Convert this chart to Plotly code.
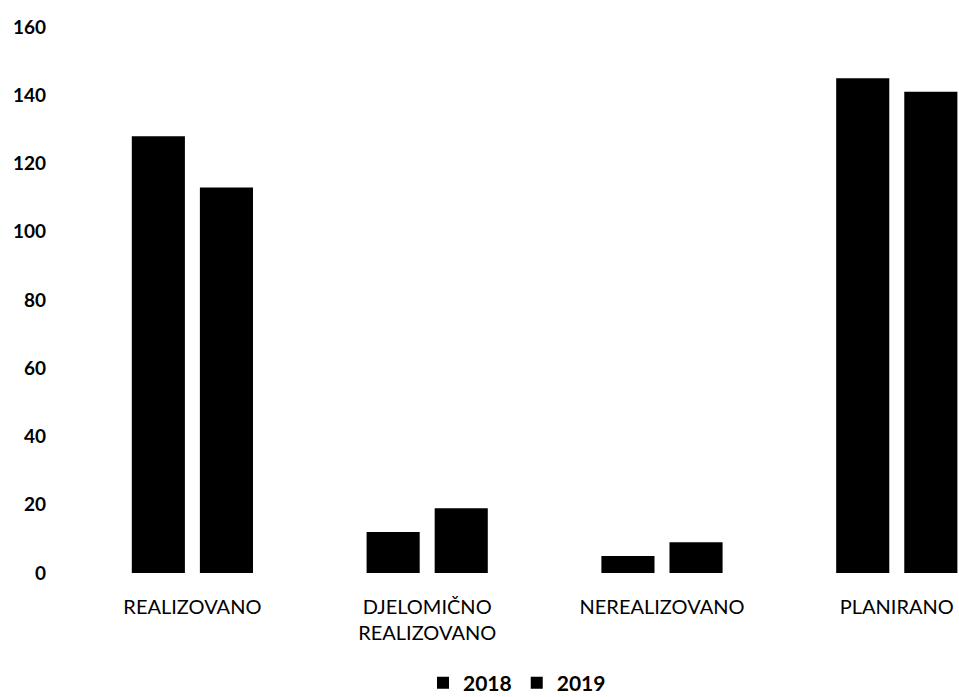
import plotly.graph_objects as go

categories = ["REALIZOVANO", "DJELOMIČNO<br>REALIZOVANO", "NEREALIZOVANO", "PLANIRANO"]
values_2018 = [128, 12, 5, 145]
values_2019 = [113, 19, 9, 141]
series_names = ["2018", "2019"]
y_ticks = [0, 20, 40, 60, 80, 100, 120, 140, 160]

fig = go.Figure()
for name, vals in zip(series_names, [values_2018, values_2019]):
    fig.add_trace(go.Bar(x=categories, y=vals, name=name, marker_color="#000000",
                         marker_line_width=0))

fig.update_layout(
    width=959, height=720,
    margin=dict(l=75, r=0, t=27, b=147),
    paper_bgcolor="white", plot_bgcolor="white",
    barmode="group", bargap=0.42, bargroupgap=0.22,
    font=dict(family="Lato", size=18, color="#000000"),
    showlegend=True,
    legend=dict(orientation="h", x=0.5, xanchor="center", y=-0.2015, yanchor="middle",
                font=dict(size=21, family="Lato", weight="bold"), itemwidth=30,
                traceorder="normal"),
    xaxis=dict(range=[-0.5, 3.265], showgrid=False, showline=False, zeroline=False,
               automargin=False, ticklabelstandoff=20, ticklabeloverflow="allow",
               tickfont=dict(size=20, family="Lato")),
    yaxis=dict(range=[0, 160], tickvals=y_ticks, showgrid=False, showline=False,
               zeroline=False, ticklabelstandoff=28, automargin=False,
               tickfont=dict(size=19, family="Lato", weight="bold")),
)
fig.write_html("out.html", config={"displayModeBar": False},
               post_script="document.body.style.margin='0px';document.body.style.overflow='hidden';")
